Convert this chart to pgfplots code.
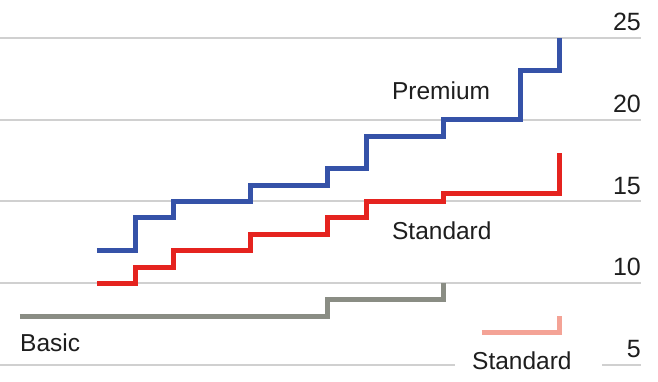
\documentclass[border=0pt]{standalone}
\usepackage{pgfplots}
\pgfplotsset{compat=1.18}
\usepackage{fontspec}
\setmainfont{Liberation Sans}
\definecolor{cblue}{HTML}{3552A8}
\definecolor{cred}{HTML}{E5231F}
\definecolor{cgrey}{HTML}{8A8D84}
\definecolor{cpink}{HTML}{F4A396}
\definecolor{gridc}{HTML}{D0D0D0}
\definecolor{txt}{HTML}{1E1E1E}
\begin{document}
\begin{tikzpicture}
\useasboundingbox (0,0) rectangle (658pt,382pt);
\fill[white] (0,0) rectangle (658pt,382pt);
\begin{axis}[
  at={(0pt,0pt)}, anchor=south west,
  scale only axis, width=641pt, height=382pt,
  xmin=-2.519, xmax=14.13, ymin=3.96, ymax=27.32,
  axis line style={draw=none},
  xtick=\empty,
  ytick={5,10,15,20,25},
  major tick length=0pt,
  ymajorgrids,
  grid style={line width=2pt, color=gridc},
  yticklabel pos=right,
  /pgf/number format/assume math mode=true,
  yticklabel style={anchor=south east, inner sep=0pt, xshift=0pt, yshift=7pt,
    font=\fontsize{25}{25}\selectfont, text=txt},
  clip=false,
]
\addplot[cgrey, line width=5pt, line join=miter, const plot] coordinates {
  (-2,7.99) (6,8.99) (9,9.99)
};
\addplot[cred, line width=5pt, line join=miter, const plot] coordinates {
  (0,9.99) (1,10.99) (2,11.99) (4,12.99) (6,13.99) (7,14.99) (9,15.49) (12,17.99)
};
\addplot[cblue, line width=5pt, line join=miter, const plot] coordinates {
  (0,11.99) (1,13.99) (2,14.99) (4,15.99) (6,16.99) (7,18.99) (9,19.99) (11,22.99) (12,24.99)
};
\addplot[cpink, line width=5pt, line join=miter, const plot] coordinates {
  (10,6.99) (12,7.99)
};
\fill[white] (axis cs:9.30,4.6) rectangle (axis cs:13.11,5.4);
\node[anchor=base west, inner sep=0pt, text=txt, font=\fontsize{24.5}{24.5}\selectfont] at (axis cs:7.66,21.21) {Premium};
\node[anchor=base west, inner sep=0pt, text=txt, font=\fontsize{24.5}{24.5}\selectfont] at (axis cs:7.66,12.65) {Standard};
\node[anchor=base west, inner sep=0pt, text=txt, font=\fontsize{24.5}{24.5}\selectfont] at (axis cs:-2.0,5.82) {Basic};
\node[anchor=base west, inner sep=0pt, text=txt, font=\fontsize{24.5}{24.5}\selectfont] at (axis cs:9.74,4.74) {Standard};
\end{axis}
\end{tikzpicture}
\end{document}
